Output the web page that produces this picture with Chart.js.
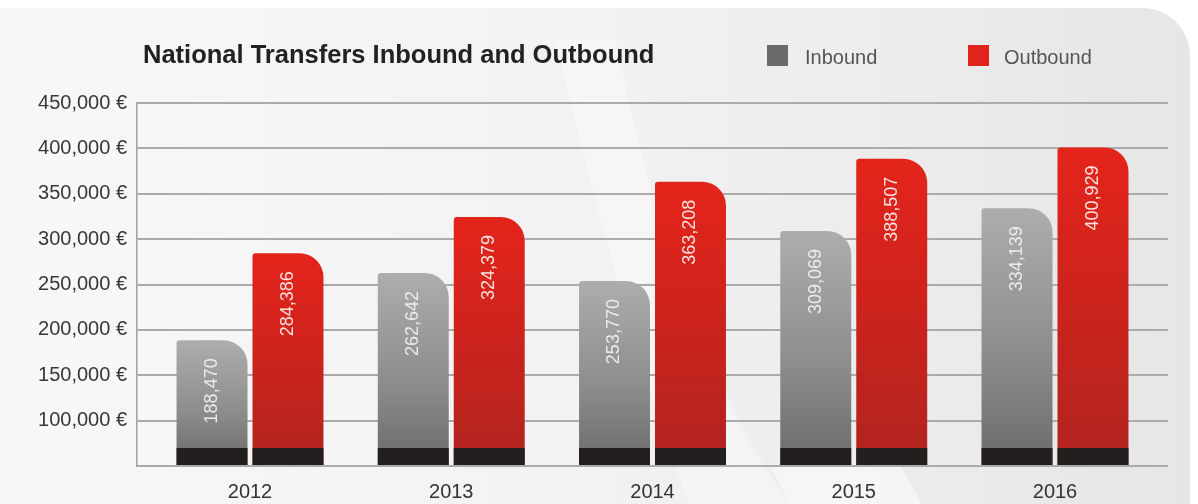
<!DOCTYPE html>
<html>
<head>
<meta charset="utf-8">
<script src="https://cdn.jsdelivr.net/npm/chart.js@4.4.1/dist/chart.umd.min.js"></script>
<style>
  html, body { margin: 0; padding: 0; background: #fff; }
  #wrap { position: relative; width: 1198px; height: 504px; overflow: hidden; background: #fff; }
  #bg, #chart { position: absolute; left: 0; top: 0; }
  #title {
    position: absolute; left: 143px; top: 40px; line-height: 25px;
    font: bold 25.5px "Liberation Sans", Arial, sans-serif; color: #222;
    white-space: nowrap;
  }
  .swatch { position: absolute; top: 45px; width: 21px; height: 21px; }
  .legtext {
    position: absolute; top: 46px; line-height: 20px;
    font: 20px "Liberation Sans", Arial, sans-serif; color: #555; white-space: nowrap;
  }
</style>
</head>
<body>
<div id="wrap">
  <svg id="bg" width="1198" height="504">
    <defs>
      <linearGradient id="panelFill" x1="0" x2="1" y1="0" y2="0">
        <stop offset="0" stop-color="#f8f8f8"/>
        <stop offset="0.5" stop-color="#f2f2f2"/>
        <stop offset="1" stop-color="#e6e6e6"/>
      </linearGradient>
    </defs>
    <path d="M0,8 H1142 A48,48 0 0 1 1190,56 V504 H0 Z" fill="url(#panelFill)"/>
    <path d="M690,504 C640,380 600,220 555,40 L615,40 C655,220 700,380 790,504 Z" fill="#fff" opacity="0.35"/>
    <path d="M790,504 L770,466 L900,466 L922,504 Z" fill="#f7f7f7" opacity="0.8"/>
  </svg>
  <canvas id="chart" width="1198" height="504"></canvas>
  <div id="title">National Transfers Inbound and Outbound</div>
  <div class="swatch" id="sw0" style="left:767px"></div>
  <div class="legtext" id="lg0" style="left:805px"></div>
  <div class="swatch" id="sw1" style="left:968px"></div>
  <div class="legtext" id="lg1" style="left:1004px"></div>
</div>
<script>
// Yearly national transfers, in euros
const years = ['2012', '2013', '2014', '2015', '2016'];
const inbound = [188470, 262642, 253770, 309069, 334139];
const outbound = [284386, 324379, 363208, 388507, 400929];
const seriesNames = ['Inbound', 'Outbound'];
const yTickValues = [50000, 100000, 150000, 200000, 250000, 300000, 350000, 400000, 450000];

const FONT = '"Liberation Sans", Arial, sans-serif';
const swatchColors = ['#6a6a6a', '#e2231b'];
const gradientStops = [
  ['#adadad', '#8e8e8e', '#6b6a69'],
  ['#e4241b', '#c9231d', '#b0241f']
];
const labelColors = ['#ececec', '#fbe3df'];

const fmt = v => v.toLocaleString('en-US');

// legend entries
seriesNames.forEach((name, i) => {
  document.getElementById('sw' + i).style.background = swatchColors[i];
  document.getElementById('lg' + i).textContent = name;
});

function barFill(seriesIndex) {
  return ctx => {
    const s = gradientStops[seriesIndex];
    const chart = ctx.chart;
    const y = chart.scales && chart.scales.y;
    if (ctx.type !== 'data' || !y || !ctx.raw) return s[1];
    const top = y.getPixelForValue(ctx.raw.y);
    const bottom = y.getPixelForValue(yTickValues[0]);
    if (!isFinite(top) || !isFinite(bottom) || top === bottom) return s[1];
    const g = chart.ctx.createLinearGradient(0, top, 0, bottom);
    g.addColorStop(0, s[0]);
    g.addColorStop(0.55, s[1]);
    g.addColorStop(1, s[2]);
    return g;
  };
}

// dark foot at the base of every bar, then the rotated value text
const barDecor = {
  id: 'barDecor',
  afterDatasetsDraw(chart) {
    const ctx = chart.ctx;
    chart.data.datasets.forEach((ds, di) => {
      const meta = chart.getDatasetMeta(di);
      meta.data.forEach((bar, i) => {
        const p = bar.getProps(['x', 'y', 'base', 'width'], true);
        ctx.save();
        ctx.fillStyle = '#221f1e';
        ctx.fillRect(p.x - p.width / 2, p.base - 17, p.width, 17);
        ctx.translate(p.x, p.y + 18);
        ctx.rotate(-Math.PI / 2);
        ctx.textAlign = 'right';
        ctx.textBaseline = 'middle';
        ctx.font = '18px ' + FONT;
        ctx.fillStyle = labelColors[di];
        ctx.fillText(fmt(ds.data[i].y), 0, 0);
        ctx.restore();
      });
    });
  }
};

const xPad = 0.5615;

new Chart(document.getElementById('chart'), {
  type: 'bar',
  data: {
    datasets: [
      {
        label: seriesNames[0],
        data: inbound.map((v, i) => ({ x: i, y: v })),
        backgroundColor: barFill(0)
      },
      {
        label: seriesNames[1],
        data: outbound.map((v, i) => ({ x: i, y: v })),
        backgroundColor: barFill(1)
      }
    ]
  },
  options: {
    responsive: false,
    animation: false,
    layout: { padding: { left: 0, right: 30, top: 103, bottom: 0 } },
    datasets: {
      bar: {
        base: yTickValues[0],
        categoryPercentage: 0.755,
        barPercentage: 0.934,
        borderRadius: { topLeft: 3, topRight: 24, bottomLeft: 0, bottomRight: 0 },
        borderSkipped: 'start'
      }
    },
    plugins: {
      legend: { display: false },
      title: { display: false },
      tooltip: { enabled: false }
    },
    scales: {
      x: {
        type: 'linear',
        offset: false,
        min: -xPad,
        max: years.length - 1 + xPad,
        afterBuildTicks: s => { s.ticks = years.map((_, i) => ({ value: i })); },
        afterFit: s => { s.height = 38; },
        ticks: {
          autoSkip: false,
          maxRotation: 0,
          padding: 6,
          color: '#333',
          font: { family: FONT, size: 20 },
          callback: v => years[v]
        },
        grid: { display: false, offset: false },
        border: { display: false }
      },
      y: {
        min: yTickValues[0],
        max: yTickValues[yTickValues.length - 1],
        afterFit: s => { s.width = 137; },
        afterBuildTicks: s => { s.ticks = yTickValues.map(v => ({ value: v })); },
        ticks: {
          padding: 10,
          color: '#383838',
          font: { family: FONT, size: 20 },
          callback: v => v === yTickValues[0] ? '' : fmt(v) + ' €'
        },
        grid: { color: '#ababab', lineWidth: 2, drawTicks: false },
        border: { display: true, color: '#a0a0a0', width: 1.5 }
      }
    }
  },
  plugins: [barDecor]
});
</script>
</body>
</html>
